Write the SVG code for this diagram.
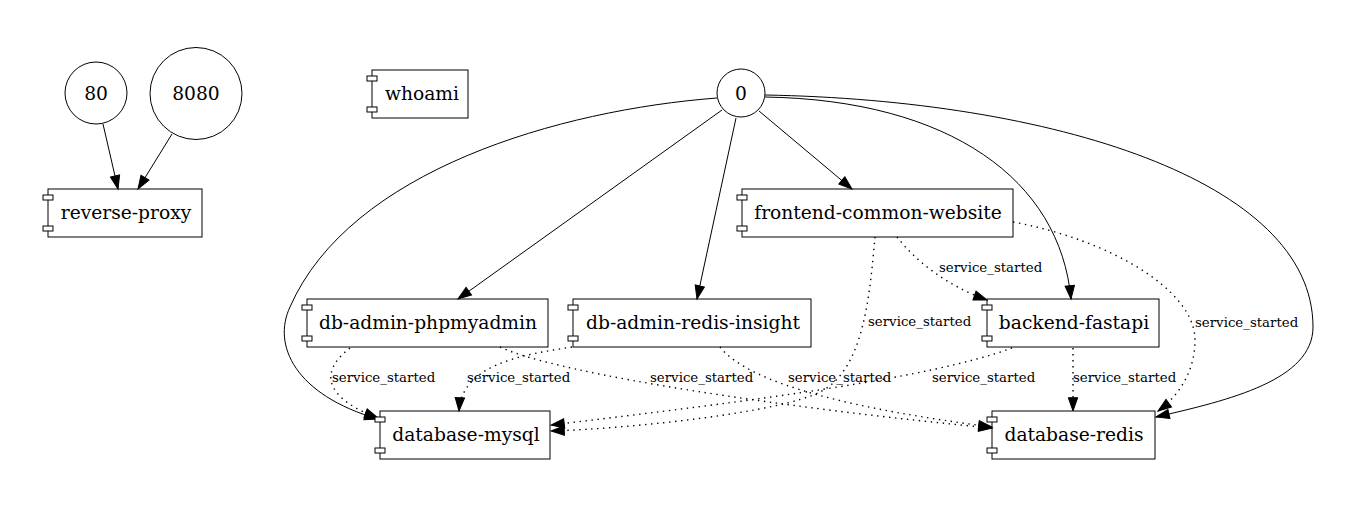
<svg xmlns="http://www.w3.org/2000/svg" width="1362" height="507" viewBox="0 0 1362 507">
<style>
.node rect.b{fill:none;stroke:#000;stroke-width:1}
.node rect.t{fill:#fff;stroke:#000;stroke-width:1}
.node circle{fill:none;stroke:#000;stroke-width:1}
.node text{font-family:"DejaVu Serif",serif;font-size:18.67px;text-anchor:middle;fill:#000}
.e{fill:none;stroke:#000;stroke-width:1;marker-end:url(#arr)}
.d{stroke-width:1.4;stroke-dasharray:1.4 4.6}
.lbl{font-family:"DejaVu Serif",serif;font-size:13.33px;fill:#000}
</style>
<defs>
<marker id="arr" markerUnits="userSpaceOnUse" markerWidth="14" markerHeight="10" refX="13.3" refY="4.7" orient="auto" overflow="visible">
<path d="M0,0 L13.3,4.7 L0,9.4 Z" fill="#000" stroke="#000" stroke-width="1" stroke-dasharray="none"/>
</marker>
</defs>
<rect width="1362" height="507" fill="#fff"/>

<g id="connectors">
<path class="e" d="M103,124 L118,189"/>
<path class="e" d="M172,134 L138,189"/>
<path class="e" d="M722,110 L458,299"/>
<path class="e" d="M736,118 L697,299"/>
<path class="e" d="M759,111 L852,189"/>
<path class="e" d="M765,97 C950,100 1060,180 1071,299"/>
<path class="e" d="M765,95 C1050,100 1313,180 1313,327 C1313,380 1230,400 1156,417"/>
<path class="e" d="M717,98 C560,110 350,170 290,307 C272,345 295,395 378,419"/>
<path class="e d" d="M350,348 C315,375 330,400 378,418"/>
<path class="e d" d="M500,347 C560,375 800,410 992,428"/>
<path class="e d" d="M572,347 C520,355 462,365 459,411"/>
<path class="e d" d="M720,347 C750,385 860,410 992,427"/>
<path class="e d" d="M875,237 C870,290 865,370 820,392 C780,412 640,428 551,431"/>
<path class="e d" d="M897,237 C915,260 945,285 987,300"/>
<path class="e d" d="M1013,222 C1110,240 1195,290 1195,340 C1195,370 1180,395 1158,411"/>
<path class="e d" d="M1012,348 C930,378 760,400 551,425"/>
<path class="e d" d="M1073,348 L1073,411"/>
<text class="lbl" x="332" y="382">service_started</text>
<text class="lbl" x="467" y="382">service_started</text>
<text class="lbl" x="650" y="382">service_started</text>
<text class="lbl" x="788" y="382">service_started</text>
<text class="lbl" x="932" y="382">service_started</text>
<text class="lbl" x="1073" y="382">service_started</text>
<text class="lbl" x="868" y="326">service_started</text>
<text class="lbl" x="939" y="272">service_started</text>
<text class="lbl" x="1195" y="327">service_started</text>
</g>

<g id="n80" class="node"><circle cx="96" cy="93" r="31"/><text x="96" y="100">80</text></g>
<g id="n8080" class="node"><circle cx="196" cy="93.5" r="46"/><text x="196" y="100">8080</text></g>
<g id="n0" class="node"><circle cx="741" cy="93" r="24"/><text x="741" y="100">0</text></g>

<g id="whoami" class="node"><rect class="b" x="372" y="70" width="96" height="48"/><rect class="t" x="367" y="76" width="10" height="5"/><rect class="t" x="367" y="107" width="10" height="5"/><text x="422" y="100">whoami</text></g>
<g id="reverse-proxy" class="node"><rect class="b" x="48" y="189" width="154" height="48"/><rect class="t" x="43" y="195" width="10" height="5"/><rect class="t" x="43" y="226" width="10" height="5"/><text x="126" y="219">reverse-proxy</text></g>
<g id="frontend-common-website" class="node"><rect class="b" x="742" y="189" width="271" height="48"/><rect class="t" x="737" y="195" width="10" height="5"/><rect class="t" x="737" y="226" width="10" height="5"/><text x="878" y="219">frontend-common-website</text></g>
<g id="db-admin-phpmyadmin" class="node"><rect class="b" x="307" y="299" width="241" height="48"/><rect class="t" x="302" y="305" width="10" height="5"/><rect class="t" x="302" y="336" width="10" height="5"/><text x="428" y="329">db-admin-phpmyadmin</text></g>
<g id="db-admin-redis-insight" class="node"><rect class="b" x="573" y="299" width="238" height="48"/><rect class="t" x="568" y="305" width="10" height="5"/><rect class="t" x="568" y="336" width="10" height="5"/><text x="693" y="329">db-admin-redis-insight</text></g>
<g id="backend-fastapi" class="node"><rect class="b" x="987" y="299" width="172" height="48"/><rect class="t" x="982" y="305" width="10" height="5"/><rect class="t" x="982" y="336" width="10" height="5"/><text x="1074" y="329">backend-fastapi</text></g>
<g id="database-mysql" class="node"><rect class="b" x="380" y="411" width="170" height="48"/><rect class="t" x="375" y="417" width="10" height="5"/><rect class="t" x="375" y="448" width="10" height="5"/><text x="466" y="441">database-mysql</text></g>
<g id="database-redis" class="node"><rect class="b" x="992" y="411" width="163" height="48"/><rect class="t" x="987" y="417" width="10" height="5"/><rect class="t" x="987" y="448" width="10" height="5"/><text x="1074" y="441">database-redis</text></g>
</svg>
